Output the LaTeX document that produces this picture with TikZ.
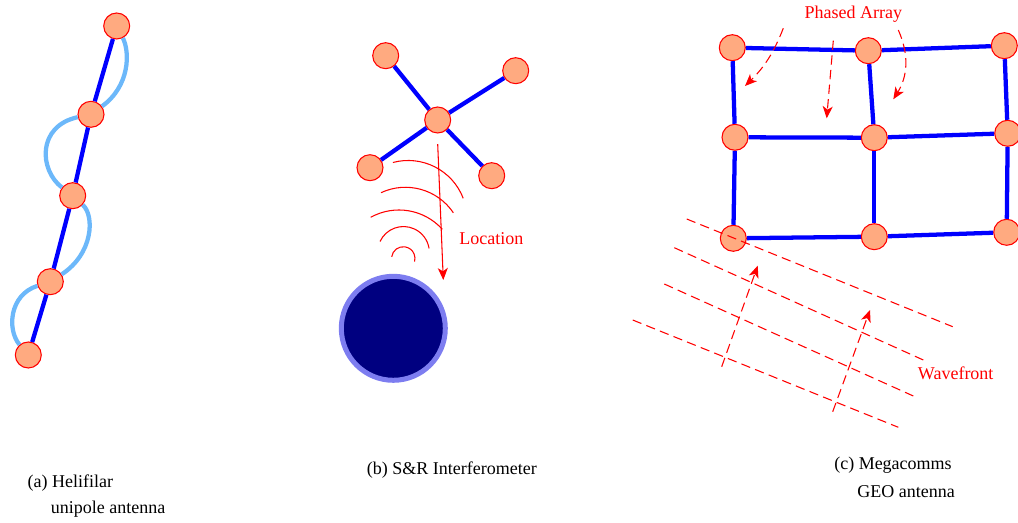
\documentclass[tikz,border=0pt]{standalone}
\usepackage{fontspec}
\setmainfont{Liberation Serif}
\usepackage{tikz}
\usetikzlibrary{arrows.meta}
\definecolor{salmon}{RGB}{255,170,128}
\definecolor{celeste}{RGB}{108,184,250}
\definecolor{marino}{RGB}{0,0,128}
\definecolor{aro}{RGB}{125,125,240}
\tikzset{
  elem/.style={circle,fill=salmon,draw=red,line width=0.8pt,minimum size=19.5pt,inner sep=0pt},
  brazo/.style={blue,line width=3.2pt},
  helice/.style={celeste,line width=3.2pt},
  onda/.style={red,line width=0.8pt},
  trazo/.style={red,line width=0.8pt,dash pattern=on 7pt off 4pt},
  fle/.style={-{Stealth[length=9pt,width=7.5pt,inset=2.5pt]}},
  rotulo/.style={red,inner sep=0pt,anchor=base west},
  pie/.style={inner sep=0pt,anchor=base west}
}

\begin{document}
\begin{tikzpicture}[x=7.5pt,y=7.5pt,font=\fontsize{13.5}{16}\selectfont]
\useasboundingbox (0,0) rectangle (101.8,-52.3);

% (a) helifilar
\node[elem] (a1) at (11.67,-2.6) {};
\node[elem] (a2) at (9.1,-11.43) {};
\node[elem] (a3) at (7.27,-19.57) {};
\node[elem] (a4) at (5.03,-28.17) {};
\node[elem] (a5) at (2.83,-35.5) {};
\foreach \i/\j in {a1/a2,a2/a3,a3/a4,a4/a5}
  \draw[brazo] (\i)--(\j);
\draw[helice] (a1) .. controls (13.0,-5.2) and (13.0,-8.6) .. (a2);
\draw[helice] (a2) .. controls (3.7,-12.6) and (3.9,-17.0) .. (a3);
\draw[helice] (a3) .. controls (9.5,-21.6) and (9.3,-25.4) .. (a4);
\draw[helice] (a4) .. controls (0.9,-29.5) and (0.7,-33.0) .. (a5);

% (b) interferometro
\node[elem] (b0) at (43.77,-12.0) {};
\node[elem] (b1) at (38.57,-5.57) {};
\node[elem] (b2) at (51.57,-7.07) {};
\node[elem] (b3) at (37.0,-16.77) {};
\node[elem] (b4) at (49.17,-17.57) {};
\foreach \k in {1,...,4}
  \draw[brazo] (b0)--(b\k);
\node[circle,fill=marino,draw=aro,line width=3.75pt,minimum size=78pt] (blanco) at (39.33,-32.83) {};
\draw[onda] (39.17,-25.68) arc (172:-16:1.17);
\draw[onda] (38.00,-24.15) arc (155:9:2.59);
\draw[onda] (37.07,-21.73) arc (119:42:5.83);
\draw[onda] (38.10,-19.27) arc (115:34:5.78);
\draw[onda] (39.29,-16.25) arc (105:21:5.9);
\coordinate (loc) at (44.33,-28.0);
\draw[onda,fle] ([yshift=-8pt]b0.south) -- (loc);
\node[rotulo] (loctxt) at (45.9,-24.5) {Location};

% (c) arreglo en fase
\node[elem] (c1) at (73.23,-4.77) {};
\node[elem] (c2) at (86.83,-5.07) {};
\node[elem] (c3) at (100.43,-4.57) {};
\node[elem] (c4) at (73.5,-13.73) {};
\node[elem] (c5) at (87.43,-13.77) {};
\node[elem] (c6) at (100.77,-13.33) {};
\node[elem] (c7) at (73.33,-23.83) {};
\node[elem] (c8) at (87.43,-23.67) {};
\node[elem] (c9) at (100.67,-23.23) {};
\foreach \i/\j in {c1/c2,c2/c3,c4/c5,c5/c6,c7/c8,c8/c9,c1/c4,c4/c7,c2/c5,c5/c8,c3/c6,c6/c9}
  \draw[brazo] (\i)--(\j);

\node[red,inner sep=0pt,anchor=base] (fase) at (85.33,-1.83) {Phased Array};
\coordinate (p1) at (78.33,-2.83); \coordinate (q1) at (74.5,-8.6);
\coordinate (p2) at (83.33,-4.07); \coordinate (q2) at (82.67,-11.83);
\coordinate (p3) at (89.83,-3.0);  \coordinate (q3) at (89.33,-9.93);
\draw[trazo,fle] (p1) to[bend left=12] (q1);
\draw[trazo,fle] (p2) -- (q2);
\draw[trazo,fle] (p3) to[bend left=28] (q3);

% frentes de onda
\foreach \s/\e in {{68.67,-21.9}/{95.27,-32.67},{67.43,-24.77}/{92.33,-36.0},
                   {66.43,-28.4}/{91.33,-39.6},{63.27,-32.0}/{89.83,-42.73}}
  \draw[trazo] (\s) -- (\e);
\coordinate (r1) at (72.17,-36.67); \coordinate (t1) at (75.77,-26.57);
\coordinate (r2) at (83.27,-41.17); \coordinate (t2) at (87.0,-31.0);
\draw[trazo,fle] (r1) -- (t1);
\draw[trazo,fle] (r2) -- (t2);
\node[rotulo] (frente) at (91.77,-38.0) {Wavefront};

% pies de figura
\node[pie] (capa) at (2.73,-48.73) {(a) Helifilar};
\node[pie] (capa2) at (5.07,-51.4) {unipole antenna};
\node[pie] (capb) at (36.67,-47.5) {(b) S\&R Interferometer};
\node[pie] (capc) at (83.4,-47.0) {(c) Megacomms};
\node[pie] (capc2) at (85.7,-49.73) {GEO antenna};
\end{tikzpicture}
\end{document}
